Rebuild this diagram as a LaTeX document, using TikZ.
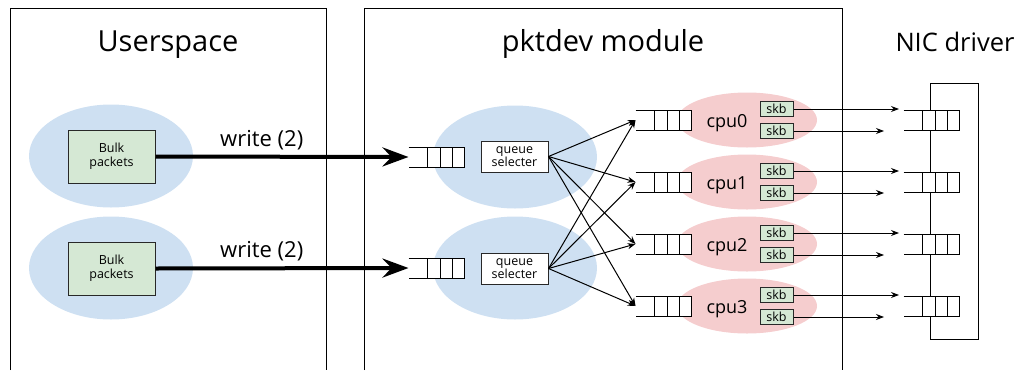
\documentclass[tikz,border=0pt]{standalone}
\usepackage{fontspec}
\setmainfont{Open Sans}
\usetikzlibrary{arrows.meta,calc,shapes.geometric}

\definecolor{blueish}{RGB}{206,224,242}
\definecolor{pinkish}{RGB}{245,205,206}
\definecolor{greenish}{RGB}{213,232,212}
\definecolor{darkline}{RGB}{40,40,40}

\begin{document}
\begin{tikzpicture}[x=1pt,y=-1pt,line width=1pt,
    every node/.style={inner sep=0pt},
    title/.style={anchor=base,font=\fontsize{29}{31}\selectfont},
    blob/.style={ellipse,fill=blueish,minimum width=164pt,minimum height=103pt},
    cpublob/.style={ellipse,fill=pinkish,minimum width=140pt,minimum height=55pt},
    greenbox/.style={draw=darkline,fill=greenish,align=center},
    queue/.style={minimum width=55pt,minimum height=19pt},
    sendarrow/.style={-{Stealth[length=8pt,width=6pt]}},
    writearrow/.style={line width=4pt,-{Stealth[length=26pt,width=19pt,inset=9pt]}}]
      \useasboundingbox (0,0) rectangle (1022,370);

      % the three areas
      \draw (10,370) -- (10,8) -- (326,8) -- (326,370);
      \draw (364,370) -- (364,8) -- (842,8) -- (842,370);
      \node[title] (user) at (168,51) {Userspace};
      \node[title] (pktdev) at (603,51) {pktdev module};
      \node[title,font=\fontsize{25.5}{27}\selectfont] (nic) at (955,51) {NIC driver};
      \draw (930,83) rectangle (978,339);

      % blobs
      \node[blob] (ub1) at (111,156) {};
      \node[blob] (ub2) at (111,268) {};
      \node[blob] (pb1) at (515,157) {};
      \node[blob] (pb2) at (515,268) {};
      \foreach \i/\y in {0/120,1/182,2/244,3/306}
        \node[cpublob] (cb\i) at (747,\y) {};

      % queues
      \node[queue] (uq1) at (436.5,157) {};
      \node[queue] (uq2) at (436.5,268) {};
      \foreach \i/\y in {0/120,1/182,2/244,3/306}{
        \node[queue] (cq\i) at (663.5,\y) {};
        \node[queue] (nq\i) at (931.5,\y) {};
      }
      \foreach \q in {uq1,uq2,cq0,cq1,cq2,cq3,nq0,nq1,nq2,nq3}{
        \fill[white] ($(\q.north west)!.345!(\q.north east)$) rectangle (\q.south east);
        \draw (\q.north west) -- (\q.north east) -- (\q.south east) -- (\q.south west);
        \foreach \f in {.345,.564,.782}
          \draw ($(\q.north west)!\f!(\q.north east)$) -- ($(\q.south west)!\f!(\q.south east)$);
      }

      % boxes
      \begin{scope}[every node/.style={greenbox,minimum width=87pt,minimum height=53pt,
          font=\fontsize{12.5}{14}\selectfont}]
        \node (bulk1) at (111.5,156.5) {Bulk\\packets};
        \node (bulk2) at (111.5,268.5) {Bulk\\packets};
      \end{scope}
      \begin{scope}[every node/.style={draw=darkline,fill=white,align=center,
          minimum width=67pt,minimum height=31pt,font=\fontsize{12.5}{13.5}\selectfont}]
        \node (sel1) at (514.5,156.5) {queue\\selecter};
        \node (sel2) at (514.5,268.5) {queue\\selecter};
      \end{scope}

      % writes
      \draw[writearrow] (bulk1.east) -- (uq1.west)
        node[pos=.42,above=5pt,font=\fontsize{22}{24}\selectfont] {write (2)};
      \draw[writearrow] (bulk2.east) -- (uq2.west)
        node[pos=.42,above=5pt,font=\fontsize{22}{24}\selectfont] {write (2)};

      % spreading over the cpus
      \foreach \s in {sel1,sel2}
        \foreach \c in {cq0,cq1,cq2,cq3}
          \draw[sendarrow] (\s.east) -- (\c.west);

      % per cpu
      \foreach \i/\y in {0/120,1/182,2/244,3/306}{
        \node[anchor=base,font=\fontsize{18}{20}\selectfont] (cpu\i) at (727,{\y+7}) {cpu\i};
        \node[greenbox,minimum width=33pt,minimum height=15pt,font=\fontsize{12.5}{14}\selectfont]
          (skb\i a) at (776.5,{\y-11}) {skb};
        \node[greenbox,minimum width=33pt,minimum height=15pt,font=\fontsize{12.5}{14}\selectfont]
          (skb\i b) at (776.5,{\y+11}) {skb};
        \coordinate (tip\i a) at (899,{\y-11});
        \coordinate (tip\i b) at (884,{\y+11});
        \draw[sendarrow] (skb\i a.east) -- (tip\i a);
        \draw[sendarrow] (skb\i b.east) -- (tip\i b);
      }
    \end{tikzpicture}
\end{document}
